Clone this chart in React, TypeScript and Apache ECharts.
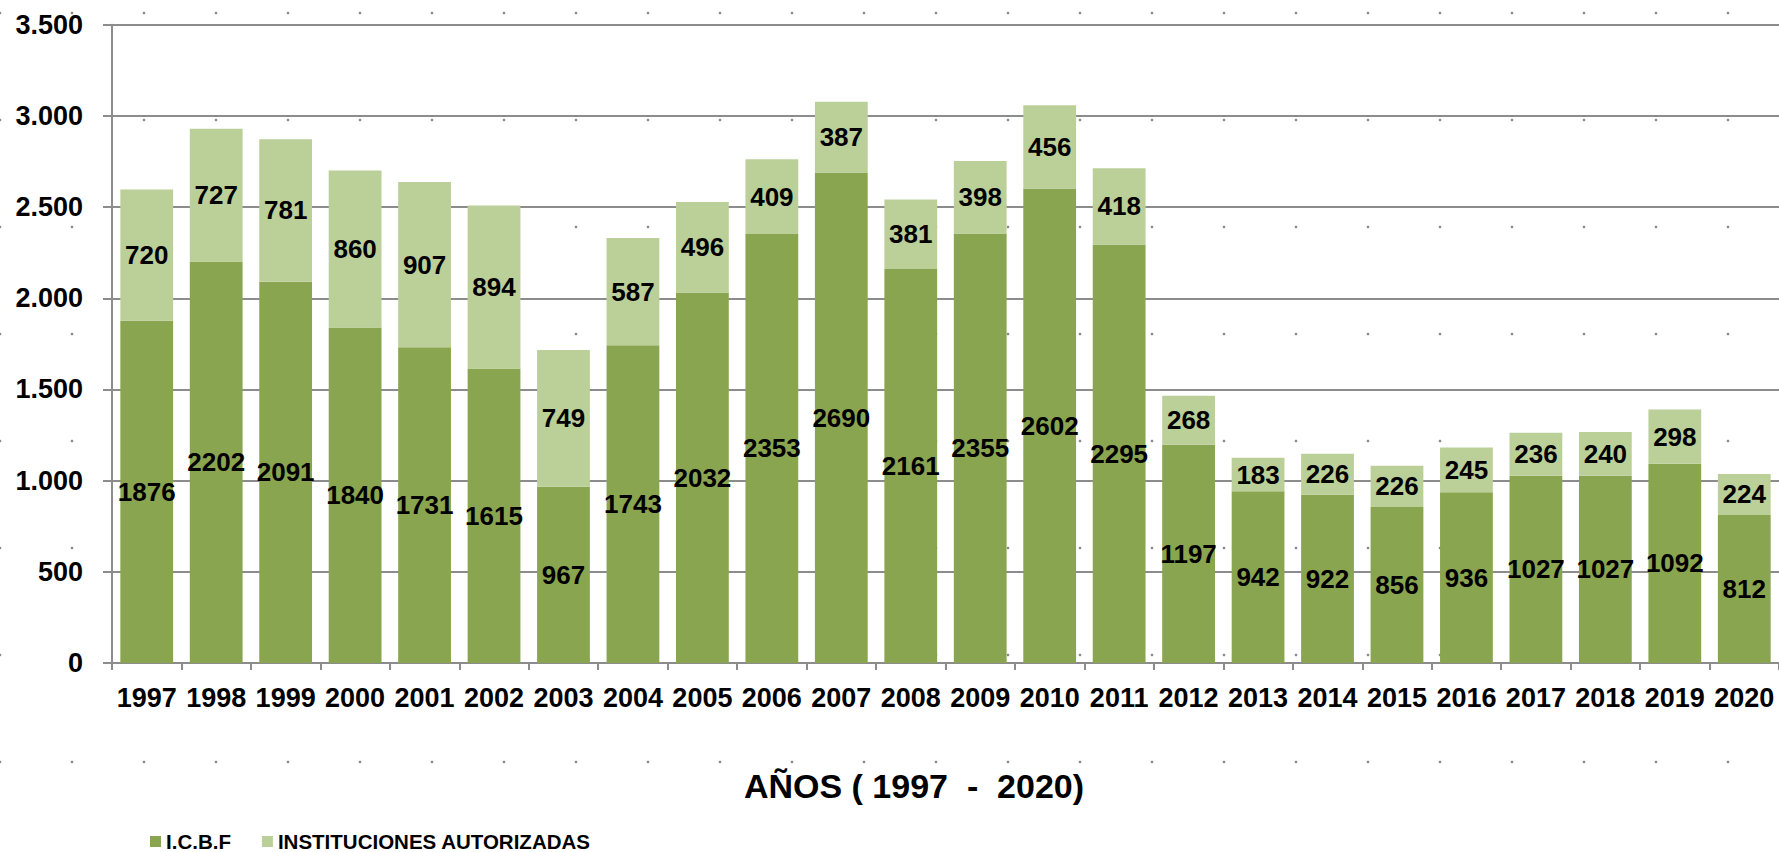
import React, { useEffect, useRef } from "react";
import * as echarts from "echarts";

const years = ["1997","1998","1999","2000","2001","2002","2003","2004","2005","2006","2007","2008","2009","2010","2011","2012","2013","2014","2015","2016","2017","2018","2019","2020"];
const icbf = [1876, 2202, 2091, 1840, 1731, 1615, 967, 1743, 2032, 2353, 2690, 2161, 2355, 2602, 2295, 1197, 942, 922, 856, 936, 1027, 1027, 1092, 812];
const instituciones = [720, 727, 781, 860, 907, 894, 749, 587, 496, 409, 387, 381, 398, 456, 418, 268, 183, 226, 226, 245, 236, 240, 298, 224];
const seriesNames = ["I.C.B.F", "INSTITUCIONES AUTORIZADAS"];
const axisTitle = "AÑOS ( 1997  -  2020)";

const FONT = "'Liberation Sans', Arial, sans-serif";

export default function App() {
  const ref = useRef<HTMLDivElement>(null);
  useEffect(() => {
    document.body.style.margin = "0";
    if (!ref.current) return;
    const chart = echarts.init(ref.current, undefined, { renderer: "svg" });

    const dots: any[] = [];
    for (let r = 0; r < 8; r++) {
      for (let c = 0; c < 25; c++) {
        dots.push({
          type: "circle",
          shape: { cx: c * 72, cy: 13 + r * 107, r: 1.3 },
          style: { fill: "#8a8a8a" },
          silent: true,
        });
      }
    }

    const labelStyle = {
      show: true,
      position: "inside",
      color: "#000",
      fontWeight: "bold",
      fontSize: 26,
      fontFamily: FONT,
    };

    chart.setOption({
      animation: false,
      backgroundColor: "#fff",
      graphic: [
        { type: "group", z: 0, children: dots },
        {
          type: "text",
          x: 914,
          y: 786,
          z: 10,
          style: {
            text: axisTitle,
            fontSize: 34,
            fontWeight: "bold",
            fontFamily: FONT,
            fill: "#000",
            textAlign: "center",
            textVerticalAlign: "middle",
          },
        },
      ],
      grid: { left: 112, right: 0, top: 24.7, bottom: 189, containLabel: false },
      legend: {
        left: 145,
        top: 826,
        padding: [5, 5, 0, 5],
        itemWidth: 11,
        itemHeight: 11,
        itemGap: 31,
        icon: "rect",
        textStyle: { fontSize: 20.5, lineHeight: 20, fontWeight: "bold", fontFamily: FONT, color: "#000" },
        data: seriesNames,
      },
      xAxis: {
        type: "category",
        data: years,
        axisLine: { lineStyle: { color: "#8c8c8c", width: 2 } },
        axisTick: { show: true, length: 7, lineStyle: { color: "#8c8c8c", width: 2 } },
        axisLabel: { color: "#000", fontSize: 27, fontWeight: "bold", fontFamily: FONT, margin: 21, interval: 0 },
      },
      yAxis: {
        type: "value",
        min: 0,
        max: 3500,
        interval: 500,
        axisLine: { show: true, lineStyle: { color: "#8c8c8c", width: 2 } },
        axisTick: { show: true, length: 9, lineStyle: { color: "#8c8c8c", width: 2 } },
        splitLine: { show: true, lineStyle: { color: "#8c8c8c", width: 2 } },
        axisLabel: {
          color: "#000",
          fontSize: 27,
          fontWeight: "bold",
          fontFamily: FONT,
          margin: 29,
          formatter: (v: number) => v.toLocaleString("de-DE"),
        },
      },
      series: [
        {
          name: seriesNames[0],
          type: "bar",
          stack: "total",
          data: icbf,
          barCategoryGap: "24%",
          itemStyle: { color: "#8aa54f" },
          label: labelStyle,
          z: 2,
        },
        {
          name: seriesNames[1],
          type: "bar",
          stack: "total",
          data: instituciones,
          barCategoryGap: "24%",
          itemStyle: { color: "#bbcf99" },
          label: labelStyle,
          z: 2,
        },
      ],
    });
    return () => chart.dispose();
  }, []);
  return <div ref={ref} style={{ width: 1779, height: 852 }} />;
}
